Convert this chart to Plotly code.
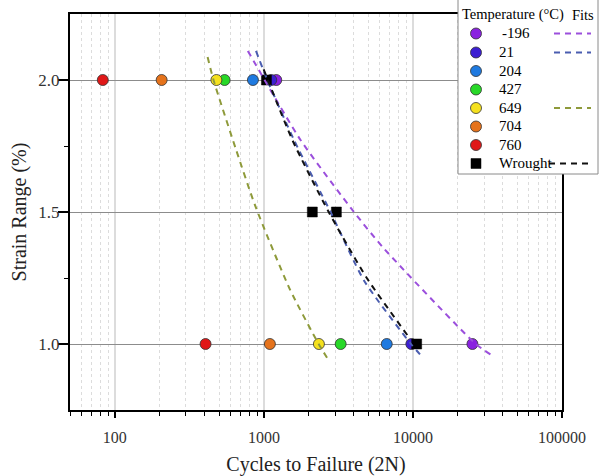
import math
import plotly.graph_objects as go

# ---------------- data ----------------
temps = ["-196", "21", "204", "427", "649", "704", "760"]
temp_colors = ["#8A22E0", "#3C1FD2", "#1F7AE0", "#28D828", "#F5E11E", "#E5731C", "#E01818"]
strain_levels = [2.0, 1.0]
cycles_at_2 = [1210, 1120, 844, 545, 480, 206, 83]
cycles_at_1 = [25060, 9750, 6670, 3273, 2339, 1097, 406]

wrought_cycles = [1040, 2113, 3063, 10590]
wrought_strain = [2.0, 1.5, 1.5, 1.0]

fit_m196_cycles = [780, 1760, 4020, 6380, 26400, 33700]
fit_m196_strain = [2.11, 1.773, 1.5, 1.362, 1.0, 0.958]
fit_21_cycles = [885, 1054, 1600, 2800, 4700, 9700, 11600]
fit_21_strain = [2.11, 2.0, 1.77, 1.5, 1.24, 1.0, 0.95]
fit_649_cycles = [419, 459, 646, 879, 1494, 2330, 2729]
fit_649_strain = [2.087, 2.0, 1.741, 1.52, 1.207, 1.0, 0.937]
fit_wrought_cycles = [996, 1560, 2720, 4900, 9160]
fit_wrought_strain = [2.04, 1.77, 1.5, 1.25, 1.034]

x_tick_vals = [100, 1000, 10000, 100000]
x_tick_text = ["100", "1000", "10000", "100000"]
y_tick_vals = [1.0, 1.5, 2.0]
y_tick_text = ["1.0", "1.5", "2.0"]

legend_title = "Temperature (°C)"
fits_title = "Fits"
wrought_label = "Wrought"

# ---------------- figure ----------------
FONT = "Liberation Serif"
W, H = 600, 476
ML, MR, MT, MB = 70, 38, 14, 66
PW, PH = W - ML - MR, H - MT - MB


def px(x):
    return (x - ML) / PW


def py(y):
    return (H - MB - y) / PH


fig = go.Figure()

for i, t in enumerate(temps):
    fig.add_trace(go.Scatter(
        x=[cycles_at_2[i], cycles_at_1[i]], y=strain_levels, mode="markers",
        name=t, showlegend=False,
        marker=dict(symbol="circle", size=11, color=temp_colors[i],
                    line=dict(color="#333333", width=0.8)),
    ))

fig.add_trace(go.Scatter(
    x=wrought_cycles, y=wrought_strain, mode="markers", name=wrought_label,
    showlegend=False,
    marker=dict(symbol="square", size=10, color="black", line=dict(color="black", width=0.5)),
))

fit_specs = [
    (fit_m196_cycles, fit_m196_strain, "#9B4FDC"),
    (fit_21_cycles, fit_21_strain, "#4A5DB0"),
    (fit_wrought_cycles, fit_wrought_strain, "#111111"),
    (fit_649_cycles, fit_649_strain, "#8E9A3A"),
]
for xs, ys, c in fit_specs:
    fig.add_trace(go.Scatter(
        x=xs, y=ys, mode="lines", showlegend=False,
        line=dict(color=c, width=2, dash="6px,5px", shape="spline", smoothing=0.6),
        hoverinfo="skip",
    ))

minor_x = [m * 10 ** k for k in range(1, 5) for m in range(2, 10) if 50 <= m * 10 ** k <= 100000]

fig.update_layout(
    width=W, height=H,
    margin=dict(l=ML, r=MR, t=MT, b=MB, autoexpand=False),
    paper_bgcolor="white", plot_bgcolor="white",
    font=dict(family=FONT, color="#222222"),
    showlegend=False,
    xaxis=dict(
        type="log", range=[math.log10(50), 5], automargin=False,
        tickmode="array", tickvals=x_tick_vals, ticktext=x_tick_text,
        ticks="outside", ticklen=6, tickwidth=1.5, tickcolor="black",
        showline=True, linecolor="black", linewidth=2, mirror=True,
        showgrid=True, gridcolor="#dcdcdc", gridwidth=1.5,
        minor=dict(tickmode="array", tickvals=minor_x, ticks="outside", ticklen=4, tickwidth=1.2,
                   tickcolor="black", showgrid=True, gridcolor="#dcdcdc",
                   griddash="dot", gridwidth=1),
        zeroline=False,
        tickfont=dict(family=FONT, size=16, color="#333333"),
        ticklabelstandoff=6,
        title=dict(text="Cycles to Failure (2N)", font=dict(family=FONT, size=20, color="#222222"),
                   standoff=20),
    ),
    yaxis=dict(
        range=[0.75, 2.25], automargin=False,
        tickmode="array", tickvals=y_tick_vals, ticktext=y_tick_text,
        ticks="outside", ticklen=10, tickwidth=1.5, tickcolor="black",
        showline=True, linecolor="black", linewidth=2, mirror=True,
        showgrid=True, gridcolor="#8c8c8c", gridwidth=1,
        minor=dict(tickmode="array", tickvals=[1.25, 1.75], ticks="outside", ticklen=4, tickwidth=1.2,
                   tickcolor="black", showgrid=False),
        zeroline=False,
        tickfont=dict(family=FONT, size=17, color="#333333"),
        ticklabelstandoff=-5,
        title=dict(text="Strain Range (%)", font=dict(family=FONT, size=20, color="#222222"),
                   standoff=6),
    ),
)

# ---------------- manual legend (two columns: markers and fits) ----------------
shapes = []
annotations = []
shapes.append(dict(type="rect", xref="paper", yref="paper",
                   x0=px(458), x1=px(598), y0=py(174), y1=py(-1),
                   fillcolor="white", line=dict(color="#8a8a8a", width=1), layer="above"))
annotations.append(dict(xref="paper", yref="paper", x=px(460), y=py(15), text=legend_title,
                        xanchor="left", yanchor="middle", showarrow=False,
                        font=dict(family=FONT, size=14.5, color="black")))
annotations.append(dict(xref="paper", yref="paper", x=px(596), y=py(15), text=fits_title,
                        xanchor="right", yanchor="middle", showarrow=False,
                        font=dict(family=FONT, size=14.5, color="black")))

row_y = [33.5, 52.5, 71, 89.5, 108, 126.5, 145, 163.5]
r = 5.5
labels = temps + [wrought_label]
for i, lab in enumerate(labels):
    yc = row_y[i]
    if i < len(temps):
        shapes.append(dict(type="circle", xref="paper", yref="paper",
                           x0=px(476 - r), x1=px(476 + r), y0=py(yc + r), y1=py(yc - r),
                           fillcolor=temp_colors[i], line=dict(color="#333333", width=0.8),
                           layer="above"))
    else:
        shapes.append(dict(type="rect", xref="paper", yref="paper",
                           x0=px(471), x1=px(481), y0=py(yc + 5), y1=py(yc - 5),
                           fillcolor="black", line=dict(color="black", width=0.5),
                           layer="above"))
    annotations.append(dict(xref="paper", yref="paper", x=px(500 if lab.startswith("-") else 497),
                            y=py(yc), text=lab, xanchor="left", yanchor="middle",
                            showarrow=False, font=dict(family=FONT, size=15, color="black")))

fit_rows = [(0, "#9B4FDC", 554), (1, "#4A5DB0", 554), (4, "#8E9A3A", 554), (7, "#111111", 549)]
for idx, c, x0 in fit_rows:
    yc = row_y[idx]
    shapes.append(dict(type="line", xref="paper", yref="paper",
                       x0=px(x0), x1=px(591), y0=py(yc), y1=py(yc),
                       line=dict(color=c, width=2, dash="6px,5px"), layer="above"))

fig.update_layout(shapes=shapes, annotations=annotations)

fig.write_html("out.html")
